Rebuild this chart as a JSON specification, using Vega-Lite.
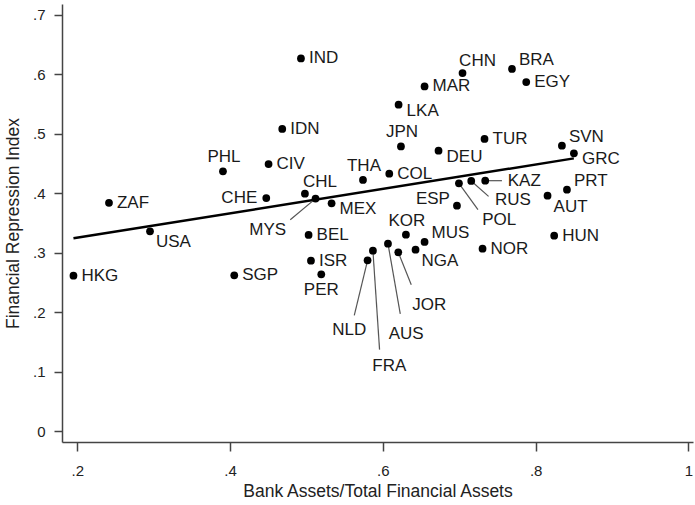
{
  "$schema": "https://vega.github.io/schema/vega-lite/v6.json",
  "width": 631,
  "height": 438,
  "autosize": {"type": "none"},
  "padding": {"left": 62, "top": 4, "right": 2, "bottom": 63},
  "background": "white",
  "config": {
    "view": {"stroke": null},
    "font": "Liberation Sans",
    "text": {"font": "Liberation Sans", "fontSize": 17, "color": "#1a1a1a", "baseline": "middle"}
  },
  "datasets": {
    "pts": [
      {"country": "HKG", "x": 0.195, "y": 0.2615, "pos": "3"},
      {"country": "ZAF", "x": 0.2415, "y": 0.384, "pos": "3"},
      {"country": "USA", "x": 0.2952, "y": 0.336, "pos": "5"},
      {"country": "PHL", "x": 0.3907, "y": 0.4368, "pos": "12"},
      {"country": "SGP", "x": 0.4055, "y": 0.262, "pos": "3"},
      {"country": "CHE", "x": 0.4474, "y": 0.392, "pos": "9"},
      {"country": "CIV", "x": 0.4504, "y": 0.449, "pos": "3"},
      {"country": "IDN", "x": 0.4683, "y": 0.508, "pos": "3"},
      {"country": "IND", "x": 0.4928, "y": 0.6266, "pos": "3"},
      {"country": "CHL", "x": 0.498, "y": 0.3993, "pos": "1"},
      {"country": "MYS", "x": 0.5119, "y": 0.391, "pos": "c", "lx": 0.4493, "ly": 0.3376, "ex": 0.4788, "ey": 0.3556},
      {"country": "MEX", "x": 0.5329, "y": 0.383, "pos": "4"},
      {"country": "THA", "x": 0.574, "y": 0.4223, "pos": "12"},
      {"country": "COL", "x": 0.6084, "y": 0.4329, "pos": "3"},
      {"country": "BEL", "x": 0.5028, "y": 0.33, "pos": "3"},
      {"country": "ISR", "x": 0.5059, "y": 0.2867, "pos": "3"},
      {"country": "PER", "x": 0.5194, "y": 0.2637, "pos": "6"},
      {"country": "NLD", "x": 0.58, "y": 0.2873, "pos": "c", "lx": 0.556, "ly": 0.1708, "ex": 0.5626, "ey": 0.1949},
      {"country": "FRA", "x": 0.587, "y": 0.3035, "pos": "c", "lx": 0.6084, "ly": 0.1104, "ex": 0.5957, "ey": 0.1372},
      {"country": "AUS", "x": 0.6067, "y": 0.3153, "pos": "c", "lx": 0.6306, "ly": 0.1636, "ex": 0.6228, "ey": 0.1972},
      {"country": "KOR", "x": 0.6302, "y": 0.3304, "pos": "12"},
      {"country": "JOR", "x": 0.6202, "y": 0.3007, "pos": "c", "lx": 0.6607, "ly": 0.2128, "ex": 0.6372, "ey": 0.2464},
      {"country": "NGA", "x": 0.6428, "y": 0.3052, "pos": "5"},
      {"country": "MUS", "x": 0.6546, "y": 0.3182, "pos": "2"},
      {"country": "NOR", "x": 0.7305, "y": 0.3069, "pos": "3"},
      {"country": "ESP", "x": 0.697, "y": 0.3791, "pos": "10"},
      {"country": "POL", "x": 0.6996, "y": 0.4166, "pos": "c", "lx": 0.7524, "ly": 0.3556, "ex": 0.7245, "ey": 0.3724},
      {"country": "RUS", "x": 0.7157, "y": 0.4206, "pos": "c", "lx": 0.7703, "ly": 0.3892, "ex": 0.7384, "ey": 0.3948},
      {"country": "KAZ", "x": 0.734, "y": 0.4211, "pos": "c", "lx": 0.7851, "ly": 0.4211, "ex": 0.7559, "ey": 0.4211},
      {"country": "DEU", "x": 0.6729, "y": 0.4715, "pos": "4"},
      {"country": "TUR", "x": 0.7331, "y": 0.4912, "pos": "3"},
      {"country": "SVN", "x": 0.8344, "y": 0.4799, "pos": "2"},
      {"country": "GRC", "x": 0.8501, "y": 0.467, "pos": "4"},
      {"country": "PRT", "x": 0.841, "y": 0.406, "pos": "2"},
      {"country": "AUT", "x": 0.8156, "y": 0.396, "pos": "5"},
      {"country": "HUN", "x": 0.8243, "y": 0.3287, "pos": "3"},
      {"country": "JPN", "x": 0.6237, "y": 0.4787, "pos": "12"},
      {"country": "LKA", "x": 0.6206, "y": 0.5488, "pos": "4"},
      {"country": "MAR", "x": 0.6546, "y": 0.5795, "pos": "3"},
      {"country": "CHN", "x": 0.7043, "y": 0.602, "pos": "1"},
      {"country": "BRA", "x": 0.769, "y": 0.6088, "pos": "2"},
      {"country": "EGY", "x": 0.7877, "y": 0.5869, "pos": "3"}
    ],
    "fit": [
      {"x": 0.195, "y": 0.3242},
      {"x": 0.85, "y": 0.4586}
    ]
  },
  "encoding": {
    "x": {
      "field": "x", "type": "quantitative",
      "title": "Bank Assets/Total Financial Assets",
      "scale": {"domain": [0.18, 1.006], "nice": false, "zero": false},
      "axis": {
        "values": [0.2, 0.4, 0.6, 0.8, 1],
        "labelExpr": "datum.value == 0 ? '0' : datum.value == 1 ? '1' : slice(format(datum.value, '.1f'), 1)",
        "grid": false,
        "domainColor": "#444", "domainWidth": 1.5,
        "tickColor": "#444", "tickWidth": 1.5, "tickSize": 9,
        "labelFont": "Liberation Sans", "labelFontSize": 15, "labelColor": "#222", "labelPadding": 12,
        "labelFlush": false, "labelOverlap": false,
        "titleFont": "Liberation Sans", "titleFontSize": 17.5, "titleFontWeight": "normal", "titleColor": "#222",
        "titleBaseline": "middle", "titleY": 49
      }
    },
    "y": {
      "field": "y", "type": "quantitative",
      "title": "Financial Repression Index",
      "scale": {"domain": [-0.018, 0.718], "nice": false, "zero": false},
      "axis": {
        "values": [0, 0.1, 0.2, 0.3, 0.4, 0.5, 0.6, 0.7],
        "labelExpr": "datum.value == 0 ? '0' : datum.value == 1 ? '1' : slice(format(datum.value, '.1f'), 1)",
        "grid": false,
        "domainColor": "#444", "domainWidth": 1.5,
        "tickColor": "#444", "tickWidth": 1.5, "tickSize": 8,
        "labelFont": "Liberation Sans", "labelFontSize": 15, "labelColor": "#222", "labelPadding": 9,
        "labelAngle": 0, "labelFlush": false, "labelOverlap": false,
        "titleFont": "Liberation Sans", "titleFontSize": 17.5, "titleFontWeight": "normal", "titleColor": "#222",
        "titleBaseline": "middle", "titleX": -49
      }
    }
  },
  "layer": [
    {
      "data": {"name": "fit"},
      "mark": {"type": "line", "color": "black", "strokeWidth": 2.5}
    },
    {
      "data": {"name": "pts"},
      "transform": [{"filter": "datum.pos == 'c'"}],
      "mark": {"type": "rule", "color": "#555", "strokeWidth": 1.2},
      "encoding": {
        "x2": {"field": "ex"},
        "y2": {"field": "ey"}
      }
    },
    {
      "data": {"name": "pts"},
      "mark": {"type": "circle", "color": "black", "opacity": 1, "size": 60}
    },
    {
      "data": {"name": "pts"},
      "transform": [{"filter": "datum.pos == '3'"}],
      "mark": {"type": "text", "align": "left", "dx": 8, "dy": 0},
      "encoding": {"text": {"field": "country"}}
    },
    {
      "data": {"name": "pts"},
      "transform": [{"filter": "datum.pos == '4'"}],
      "mark": {"type": "text", "align": "left", "dx": 8, "dy": 6},
      "encoding": {"text": {"field": "country"}}
    },
    {
      "data": {"name": "pts"},
      "transform": [{"filter": "datum.pos == '2'"}],
      "mark": {"type": "text", "align": "left", "dx": 7, "dy": -9},
      "encoding": {"text": {"field": "country"}}
    },
    {
      "data": {"name": "pts"},
      "transform": [{"filter": "datum.pos == '12'"}],
      "mark": {"type": "text", "align": "center", "dx": 1, "dy": -14},
      "encoding": {"text": {"field": "country"}}
    },
    {
      "data": {"name": "pts"},
      "transform": [{"filter": "datum.pos == '1'"}],
      "mark": {"type": "text", "align": "center", "dx": 15, "dy": -12},
      "encoding": {"text": {"field": "country"}}
    },
    {
      "data": {"name": "pts"},
      "transform": [{"filter": "datum.pos == '5'"}],
      "mark": {"type": "text", "align": "left", "dx": 6, "dy": 11},
      "encoding": {"text": {"field": "country"}}
    },
    {
      "data": {"name": "pts"},
      "transform": [{"filter": "datum.pos == '6'"}],
      "mark": {"type": "text", "align": "center", "dx": 0, "dy": 16},
      "encoding": {"text": {"field": "country"}}
    },
    {
      "data": {"name": "pts"},
      "transform": [{"filter": "datum.pos == '9'"}],
      "mark": {"type": "text", "align": "right", "dx": -9, "dy": 0},
      "encoding": {"text": {"field": "country"}}
    },
    {
      "data": {"name": "pts"},
      "transform": [{"filter": "datum.pos == '10'"}],
      "mark": {"type": "text", "align": "right", "dx": -7, "dy": -7},
      "encoding": {"text": {"field": "country"}}
    },
    {
      "data": {"name": "pts"},
      "transform": [{"filter": "datum.pos == 'c'"}],
      "mark": {"type": "text", "align": "center"},
      "encoding": {
        "x": {"field": "lx", "type": "quantitative", "title": "Bank Assets/Total Financial Assets"},
        "y": {"field": "ly", "type": "quantitative", "title": "Financial Repression Index"},
        "text": {"field": "country"}
      }
    }
  ]
}
